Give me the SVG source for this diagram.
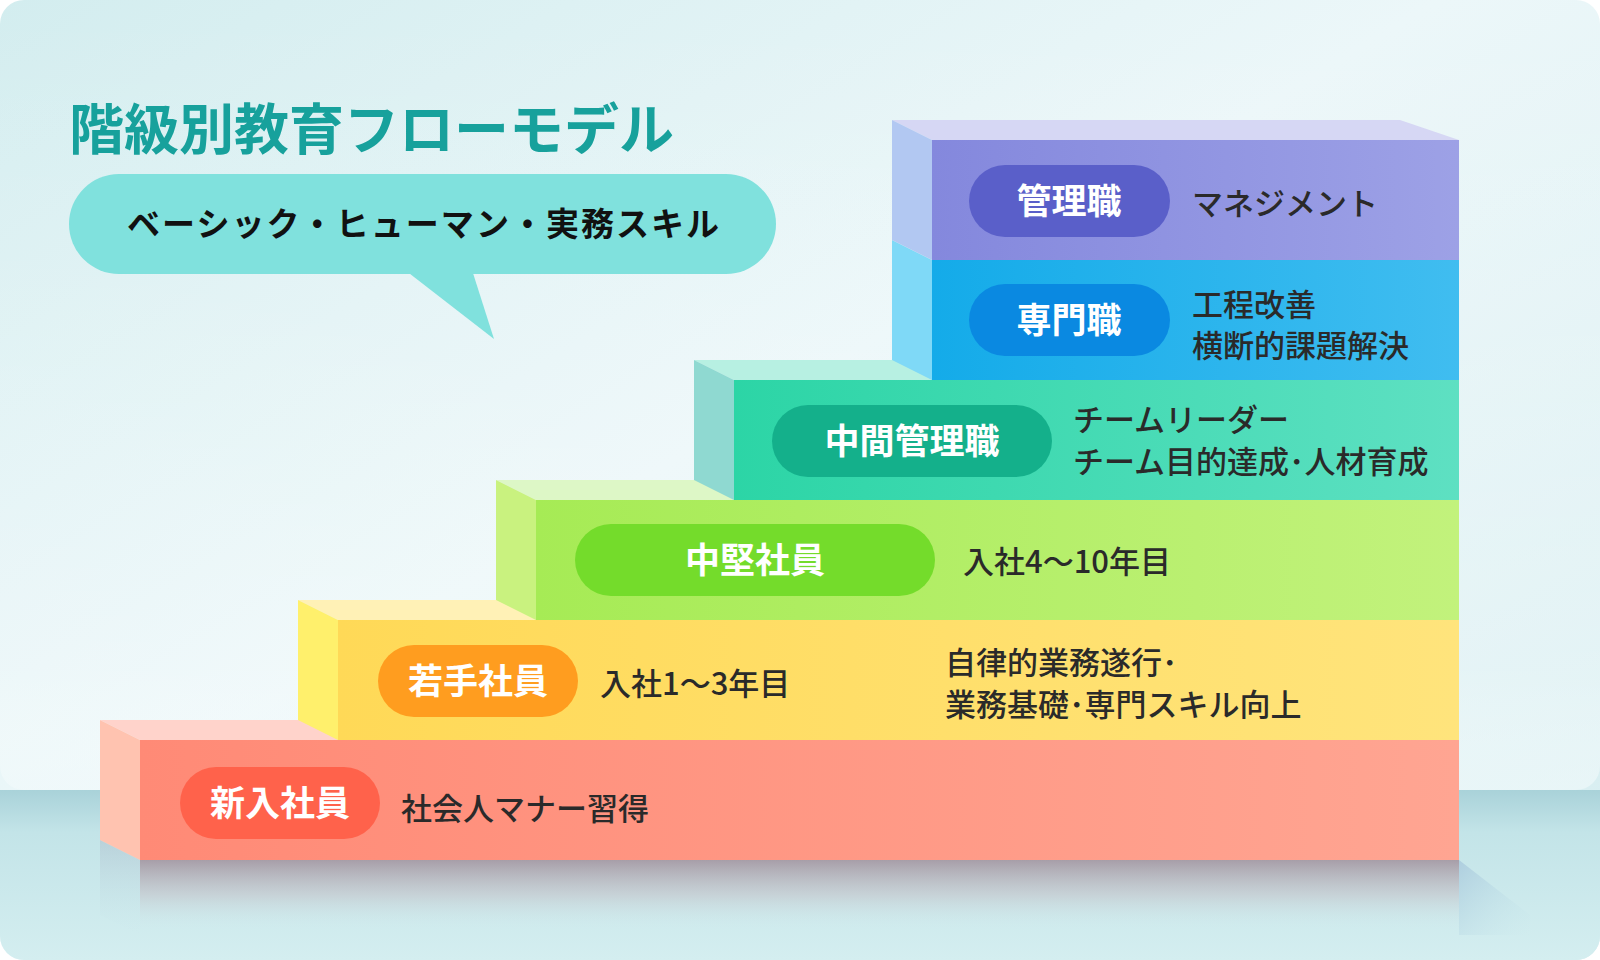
<svg xmlns="http://www.w3.org/2000/svg" width="1600" height="960" viewBox="0 0 1600 960">
<defs>
<linearGradient id="bg" x1="0" y1="0" x2="1" y2="1">
<stop offset="0" stop-color="#d3edef"/>
<stop offset="0.45" stop-color="#ecf7f9"/>
<stop offset="1" stop-color="#d5edf0"/>
</linearGradient>
<linearGradient id="bgTop" x1="0" y1="0" x2="0" y2="1">
<stop offset="0" stop-color="#ffffff" stop-opacity="0"/>
<stop offset="0.85" stop-color="#ffffff" stop-opacity="0.25"/>
<stop offset="1" stop-color="#f2fafb" stop-opacity="0.6"/>
</linearGradient>
<linearGradient id="floor" x1="0" y1="0" x2="0" y2="1">
<stop offset="0" stop-color="#a9d2d9"/>
<stop offset="0.25" stop-color="#c3e4e8"/>
<stop offset="1" stop-color="#d4eef0"/>
</linearGradient>
<linearGradient id="refl" x1="0" y1="0" x2="0" y2="1">
<stop offset="0" stop-color="#9a7f8c" stop-opacity="0.7"/>
<stop offset="0.5" stop-color="#c0b0b8" stop-opacity="0.4"/>
<stop offset="1" stop-color="#d0e8ec" stop-opacity="0"/>
</linearGradient>
<linearGradient id="sideShadow" x1="0" y1="0" x2="1" y2="1">
<stop offset="0" stop-color="#a8c8dc" stop-opacity="0.8"/>
<stop offset="1" stop-color="#c8e8ec" stop-opacity="0"/>
</linearGradient>
<linearGradient id="leftShadow" x1="0" y1="0" x2="0" y2="1">
<stop offset="0" stop-color="#a8b4c4" stop-opacity="0.4"/>
<stop offset="1" stop-color="#c8e4ea" stop-opacity="0"/>
</linearGradient>
<linearGradient id="fPurple" x1="0" y1="0" x2="1" y2="0"><stop offset="0" stop-color="#8488dd"/><stop offset="1" stop-color="#9da1e6"/></linearGradient>
<linearGradient id="fBlue" x1="0" y1="0" x2="1" y2="0"><stop offset="0" stop-color="#14abe9"/><stop offset="1" stop-color="#40bdf0"/></linearGradient>
<linearGradient id="fTeal" x1="0" y1="0" x2="1" y2="0"><stop offset="0" stop-color="#2cd5a6"/><stop offset="1" stop-color="#5ee0c2"/></linearGradient>
<linearGradient id="fGreen" x1="0" y1="0" x2="1" y2="0"><stop offset="0" stop-color="#a6eb55"/><stop offset="1" stop-color="#c2f27c"/></linearGradient>
<linearGradient id="fYellow" x1="0" y1="0" x2="1" y2="0"><stop offset="0" stop-color="#ffd957"/><stop offset="1" stop-color="#ffe47c"/></linearGradient>
<linearGradient id="fRed" x1="0" y1="0" x2="1" y2="0"><stop offset="0" stop-color="#ff8a76"/><stop offset="1" stop-color="#ffa592"/></linearGradient>
</defs>
<style>
.pill-text{font-family:"Noto Sans CJK JP","Noto Sans CJK SC",sans-serif;font-weight:700;font-size:35px;fill:#ffffff;text-anchor:middle}
.desc{font-family:"Noto Sans CJK JP","Noto Sans CJK SC",sans-serif;font-weight:500;font-size:31px;fill:#2a2a2a}
.title{font-family:"Noto Sans CJK JP","Noto Sans CJK SC",sans-serif;font-weight:700;font-size:55px;fill:#17a19c}
.bubble-text{font-family:"Noto Sans CJK JP","Noto Sans CJK SC",sans-serif;font-weight:700;font-size:33px;fill:#111111}
</style>

<!-- background -->
<rect x="0" y="0" width="1600" height="960" fill="#ffffff"/>
<rect x="0" y="0" width="1600" height="960" rx="24" fill="url(#bg)"/>
<rect x="0" y="0" width="1600" height="790" rx="24" fill="url(#bgTop)"/>
<path d="M0 790 H1600 V936 A24 24 0 0 1 1576 960 H24 A24 24 0 0 1 0 936 Z" fill="url(#floor)"/>

<!-- floor shadows -->
<polygon points="1459,860 1530,915 1530,935 1459,935" fill="url(#sideShadow)"/>
<polygon points="100,840 140,860 140,935 100,915" fill="url(#leftShadow)"/>
<rect x="140" y="860" width="1319" height="70" fill="url(#refl)"/>

<!-- title -->
<text class="title" x="69" y="149">階級別教育フローモデル</text>

<!-- speech bubble -->
<g id="bubble">
<rect x="69" y="174" width="707" height="100" rx="50" fill="#80e1dd"/>
<polygon points="405,270 472,270 494,339" fill="#80e1dd"/>
<text class="bubble-text" x="127" y="236" textLength="592" lengthAdjust="spacing">ベーシック・ヒューマン・実務スキル</text>
</g>

<!-- steps (bottom to top) -->
<g id="step-shinnyu">
<polygon points="100,720 1400,720 1459,740 140,740" fill="#ffd3cb"/>
<polygon points="100,720 140,740 140,860 100,840" fill="#ffc3b0"/>
<rect x="140" y="740" width="1319" height="120" fill="url(#fRed)"/>
<rect x="180" y="767" width="200" height="72" rx="36" fill="#ff624b"/>
<text class="pill-text" x="280" y="816">新入社員</text>
<text class="desc" x="401" y="820">社会人マナー習得</text>
</g>

<g id="step-wakate">
<polygon points="298,600 1400,600 1459,620 338,620" fill="#fff1b6"/>
<polygon points="298,600 338,620 338,740 298,720" fill="#fff06c"/>
<rect x="338" y="620" width="1121" height="120" fill="url(#fYellow)"/>
<rect x="378" y="645" width="200" height="72" rx="36" fill="#ff9d1f"/>
<text class="pill-text" x="478" y="694">若手社員</text>
<text class="desc" x="600" y="695">入社1～3年目</text>
<text class="desc"><tspan x="945" y="674">自律的業務遂行･</tspan><tspan x="945" y="716">業務基礎･専門スキル向上</tspan></text>
</g>

<g id="step-chuken">
<polygon points="496,480 1400,480 1459,500 536,500" fill="#ddf7c6"/>
<polygon points="496,480 536,500 536,620 496,600" fill="#c9f27f"/>
<rect x="536" y="500" width="923" height="120" fill="url(#fGreen)"/>
<rect x="575" y="524" width="360" height="72" rx="36" fill="#74dc2b"/>
<text class="pill-text" x="755" y="573">中堅社員</text>
<text class="desc" x="963" y="573">入社4～10年目</text>
</g>

<g id="step-chukan">
<polygon points="694,360 1400,360 1459,380 734,380" fill="#b7f0e2"/>
<polygon points="694,360 734,380 734,500 694,480" fill="#8fd9d1"/>
<rect x="734" y="380" width="725" height="120" fill="url(#fTeal)"/>
<rect x="772" y="405" width="280" height="72" rx="36" fill="#14b08b"/>
<text class="pill-text" x="912" y="454">中間管理職</text>
<text class="desc"><tspan x="1073" y="431">チームリーダー</tspan><tspan x="1073" y="473">チーム目的達成･人材育成</tspan></text>
</g>

<g id="step-senmon">
<polygon points="892,240 932,260 932,380 892,360" fill="#7fd9f7"/>
<rect x="932" y="260" width="527" height="120" fill="url(#fBlue)"/>
<rect x="969" y="284" width="201" height="72" rx="36" fill="#0a89e1"/>
<text class="pill-text" x="1069" y="333">専門職</text>
<text class="desc"><tspan x="1192" y="316">工程改善</tspan><tspan x="1192" y="357">横断的課題解決</tspan></text>
</g>

<g id="step-kanri">
<polygon points="892,120 1400,120 1459,140 932,140" fill="#d6d7f4"/>
<polygon points="892,120 932,140 932,260 892,240" fill="#b2c8f2"/>
<rect x="932" y="140" width="527" height="120" fill="url(#fPurple)"/>
<rect x="969" y="165" width="201" height="72" rx="36" fill="#5a5fc9"/>
<text class="pill-text" x="1069" y="214">管理職</text>
<text class="desc" x="1192" y="215">マネジメント</text>
</g>

<g id="connectors"></g>
</svg>
